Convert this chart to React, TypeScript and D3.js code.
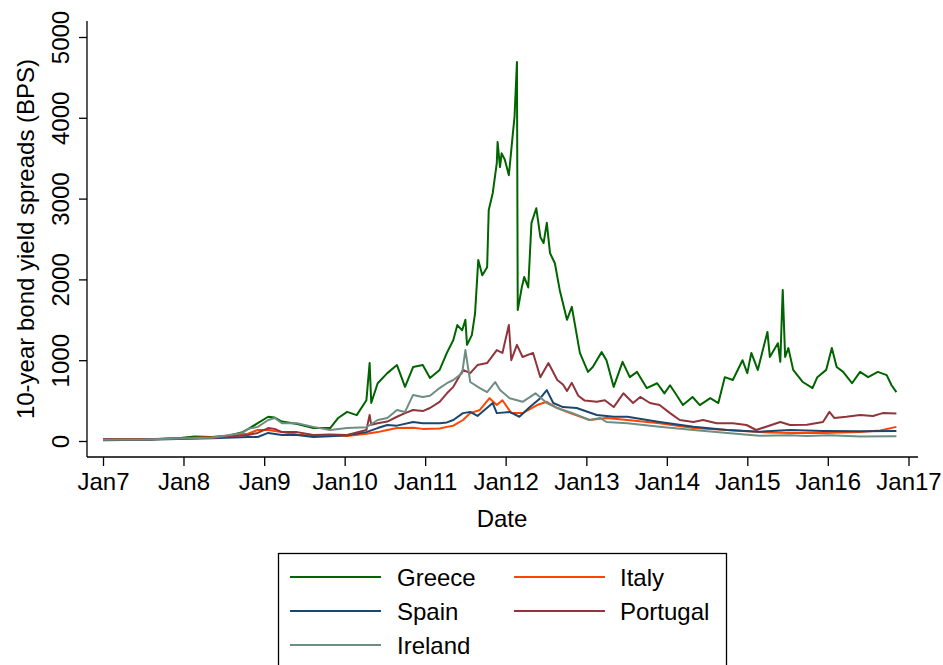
import React, { useEffect, useRef } from 'react';
import * as d3 from 'd3';

// [decimal year, spread in bps]
const greece: [number, number][] = [
  [2007.0, 25], [2007.3, 22], [2007.53, 20], [2007.76, 28], [2007.93, 35], [2008.14, 55], [2008.35, 50],
  [2008.56, 65], [2008.73, 110], [2008.8, 148], [2008.92, 220], [2009.05, 300], [2009.13, 290], [2009.22, 240],
  [2009.41, 210], [2009.61, 160], [2009.82, 160], [2009.92, 285], [2010.03, 360], [2010.15, 320], [2010.27, 505],
  [2010.31, 965], [2010.33, 470], [2010.41, 715], [2010.53, 840], [2010.65, 940], [2010.75, 670], [2010.85, 915],
  [2010.97, 940], [2011.06, 780], [2011.18, 880], [2011.27, 1090], [2011.35, 1250], [2011.4, 1435], [2011.46, 1370],
  [2011.5, 1500], [2011.52, 1190], [2011.58, 1310], [2011.62, 1580], [2011.66, 2240], [2011.71, 2050],
  [2011.77, 2150], [2011.79, 2860], [2011.84, 3070], [2011.89, 3440], [2011.9, 3700], [2011.93, 3390],
  [2011.95, 3560], [2011.99, 3480], [2012.04, 3290], [2012.09, 3810], [2012.11, 4010], [2012.14, 4690],
  [2012.15, 1620], [2012.2, 1900], [2012.23, 2030], [2012.28, 1900], [2012.32, 2700], [2012.38, 2880],
  [2012.43, 2525], [2012.47, 2450], [2012.51, 2700], [2012.55, 2325], [2012.61, 2200], [2012.67, 1870],
  [2012.76, 1500], [2012.82, 1660], [2012.92, 1090], [2013.02, 855], [2013.08, 915], [2013.19, 1100],
  [2013.25, 1000], [2013.34, 670], [2013.45, 980], [2013.54, 790], [2013.63, 855], [2013.75, 655], [2013.88, 715],
  [2013.97, 590], [2014.04, 690], [2014.12, 570], [2014.2, 445], [2014.32, 545], [2014.41, 445], [2014.54, 530],
  [2014.64, 470], [2014.72, 790], [2014.82, 755], [2014.94, 1000], [2015.0, 840], [2015.05, 1090], [2015.13, 880],
  [2015.25, 1350], [2015.28, 1040], [2015.38, 1210], [2015.41, 980], [2015.44, 1870], [2015.47, 1040],
  [2015.51, 1150], [2015.57, 880], [2015.69, 730], [2015.81, 655], [2015.87, 790], [2015.98, 880], [2016.05, 1150],
  [2016.11, 915], [2016.19, 855], [2016.3, 715], [2016.4, 855], [2016.5, 790], [2016.62, 855], [2016.73, 815],
  [2016.79, 690], [2016.85, 605],
];

const italy: [number, number][] = [
  [2007.0, 20], [2007.53, 22], [2007.93, 35], [2008.35, 45], [2008.8, 90], [2008.92, 136], [2009.05, 136],
  [2009.22, 110], [2009.41, 80], [2009.61, 62], [2009.82, 70], [2010.03, 62], [2010.27, 90], [2010.41, 110],
  [2010.53, 136], [2010.65, 160], [2010.85, 165], [2010.97, 150], [2011.18, 155], [2011.27, 175], [2011.35, 190],
  [2011.47, 260], [2011.56, 345], [2011.68, 384], [2011.8, 530], [2011.89, 445], [2011.96, 505], [2012.07, 345],
  [2012.21, 345], [2012.39, 445], [2012.51, 485], [2012.64, 408], [2012.8, 345], [2013.04, 260], [2013.25, 285],
  [2013.51, 260], [2013.91, 220], [2014.33, 160], [2014.75, 136], [2015.15, 110], [2015.53, 100], [2015.94, 100],
  [2016.4, 110], [2016.65, 130], [2016.85, 175],
];

const spain: [number, number][] = [
  [2007.0, 10], [2007.53, 15], [2007.93, 25], [2008.35, 35], [2008.8, 50], [2008.92, 50], [2009.05, 100],
  [2009.22, 74], [2009.41, 74], [2009.61, 50], [2009.82, 60], [2010.03, 70], [2010.27, 110], [2010.41, 160],
  [2010.53, 198], [2010.65, 190], [2010.85, 235], [2010.97, 220], [2011.18, 220], [2011.27, 230], [2011.35, 260],
  [2011.47, 345], [2011.56, 360], [2011.65, 310], [2011.84, 470], [2011.89, 345], [2012.05, 360], [2012.17, 300],
  [2012.3, 420], [2012.43, 530], [2012.51, 630], [2012.59, 470], [2012.71, 420], [2012.88, 408], [2013.13, 322],
  [2013.34, 300], [2013.51, 300], [2013.91, 235], [2014.33, 175], [2014.75, 136], [2015.15, 115], [2015.53, 136],
  [2015.94, 125], [2016.4, 120], [2016.85, 124],
];

const portugal: [number, number][] = [
  [2007.0, 18], [2007.53, 20], [2007.93, 30], [2008.35, 40], [2008.8, 74], [2008.92, 100], [2009.05, 160],
  [2009.13, 150], [2009.22, 110], [2009.41, 110], [2009.61, 74], [2009.82, 80], [2010.03, 74], [2010.27, 136],
  [2010.31, 322], [2010.33, 200], [2010.41, 220], [2010.53, 240], [2010.65, 300], [2010.75, 345], [2010.85, 384],
  [2010.97, 370], [2011.06, 408], [2011.18, 485], [2011.27, 590], [2011.35, 670], [2011.47, 880], [2011.56, 840],
  [2011.65, 940], [2011.77, 965], [2011.89, 1125], [2011.96, 1090], [2012.04, 1435], [2012.07, 1000],
  [2012.14, 1190], [2012.21, 1040], [2012.34, 1090], [2012.43, 790], [2012.53, 965], [2012.64, 755],
  [2012.71, 700], [2012.76, 620], [2012.82, 720], [2012.9, 560], [2012.98, 500], [2013.13, 485], [2013.23, 505],
  [2013.34, 420], [2013.46, 590], [2013.58, 470], [2013.67, 545], [2013.79, 470], [2013.91, 445], [2014.04, 345],
  [2014.16, 260], [2014.33, 235], [2014.45, 260], [2014.62, 220], [2014.82, 220], [2014.99, 198], [2015.11, 136],
  [2015.41, 235], [2015.53, 198], [2015.74, 200], [2015.94, 235], [2016.02, 360], [2016.08, 285], [2016.23, 300],
  [2016.4, 322], [2016.56, 310], [2016.68, 345], [2016.85, 340],
];

const ireland: [number, number][] = [
  [2007.0, 15], [2007.53, 18], [2007.93, 30], [2008.35, 40], [2008.73, 100], [2008.8, 150], [2008.92, 175],
  [2009.05, 260], [2009.13, 285], [2009.22, 220], [2009.41, 220], [2009.61, 175], [2009.82, 136], [2010.03, 160],
  [2010.27, 170], [2010.41, 260], [2010.53, 285], [2010.65, 384], [2010.75, 360], [2010.85, 570], [2010.97, 545],
  [2011.06, 560], [2011.18, 655], [2011.27, 715], [2011.35, 755], [2011.46, 840], [2011.5, 1125], [2011.56, 730],
  [2011.68, 655], [2011.77, 605], [2011.87, 730], [2011.93, 630], [2012.05, 530], [2012.21, 485], [2012.37, 590],
  [2012.51, 470], [2012.64, 408], [2012.83, 345], [2013.04, 260], [2013.17, 285], [2013.25, 235], [2013.51, 220],
  [2013.91, 175], [2014.33, 136], [2014.75, 100], [2015.15, 65], [2015.53, 70], [2015.74, 62], [2016.02, 70],
  [2016.4, 55], [2016.85, 60],
];

const yearTicks = [2007, 2008, 2009, 2010, 2011, 2012, 2013, 2014, 2015, 2016, 2017];
const valueTicks = [0, 1000, 2000, 3000, 4000, 5000];

// draw order follows the legend order (row by row)
const series = [
  { name: 'Greece', data: greece, color: '#006400', col: 0, row: 0 },
  { name: 'Italy', data: italy, color: '#ff4500', col: 1, row: 0 },
  { name: 'Spain', data: spain, color: '#1a476f', col: 0, row: 1 },
  { name: 'Portugal', data: portugal, color: '#90353b', col: 1, row: 1 },
  { name: 'Ireland', data: ireland, color: '#6e8e84', col: 0, row: 2 },
];

const FONT = '"Liberation Sans", Arial, Helvetica, sans-serif';

const toDate = (t: number) => {
  const y = Math.floor(t);
  const a = new Date(y, 0, 1).getTime();
  const b = new Date(y + 1, 0, 1).getTime();
  return new Date(a + (t - y) * (b - a));
};

const App = () => {
  const ref = useRef<SVGSVGElement>(null);

  useEffect(() => {
    const width = 943;
    const height = 665;
    const left = 87, right = 918, top = 21, bottom = 457;

    const svg = d3.select(ref.current).attr('width', width).attr('height', height);
    svg.selectAll('*').remove();

    const x = d3.scaleTime()
      .domain([toDate(2007), toDate(2017)])
      .range([103, 908.5]);

    const y = d3.scaleLinear()
      .domain([0, 5000])
      .range([441, 37]);

    // axis lines
    svg.append('line')
      .attr('x1', left).attr('x2', left).attr('y1', top).attr('y2', bottom)
      .attr('stroke', '#000').attr('stroke-width', 1.3);
    svg.append('line')
      .attr('x1', left).attr('x2', right).attr('y1', bottom).attr('y2', bottom)
      .attr('stroke', '#000').attr('stroke-width', 1.3);

    // y axis
    const yAxis = svg.append('g')
      .attr('transform', `translate(${left},0)`)
      .call(d3.axisLeft(y).tickValues(valueTicks).tickSize(8).tickSizeOuter(0).tickFormat(d3.format('d')));
    yAxis.select('.domain').remove();
    yAxis.selectAll('line').attr('stroke', '#000').attr('stroke-width', 1.3);
    yAxis.selectAll('text')
      .attr('font-family', FONT)
      .attr('font-size', 24)
      .attr('fill', '#000')
      .attr('text-anchor', 'middle')
      .attr('x', null)
      .attr('dy', null)
      .attr('transform', 'translate(-18,0) rotate(-90)');

    // x axis
    const xAxis = svg.append('g')
      .attr('transform', `translate(0,${bottom})`)
      .call(d3.axisBottom(x)
        .tickValues(yearTicks.map(v => toDate(v)))
        .tickSize(9)
        .tickSizeOuter(0)
        .tickFormat((d: any) => `Jan${d.getFullYear() - 2000}`));
    xAxis.select('.domain').remove();
    xAxis.selectAll('line').attr('stroke', '#000').attr('stroke-width', 1.3);
    xAxis.selectAll('text')
      .attr('font-family', FONT)
      .attr('font-size', 24)
      .attr('fill', '#000')
      .attr('y', 33)
      .attr('dy', null);

    // axis titles
    svg.append('text')
      .attr('transform', `translate(34,${(top + bottom) / 2}) rotate(-90)`)
      .attr('text-anchor', 'middle')
      .attr('font-family', FONT)
      .attr('font-size', 24)
      .text('10-year bond yield spreads (BPS)');

    svg.append('text')
      .attr('x', 502)
      .attr('y', 527)
      .attr('text-anchor', 'middle')
      .attr('font-family', FONT)
      .attr('font-size', 24)
      .text('Date');

    // series
    const line = d3.line<[number, number]>()
      .x(d => x(toDate(d[0])))
      .y(d => y(d[1]));

    svg.append('g')
      .selectAll('path')
      .data(series)
      .join('path')
      .attr('d', d => line(d.data))
      .attr('fill', 'none')
      .attr('stroke', d => d.color)
      .attr('stroke-width', 2)
      .attr('stroke-linejoin', 'round');

    // legend
    const legend = svg.append('g');
    legend.append('rect')
      .attr('x', 278.5).attr('y', 553.5)
      .attr('width', 448).attr('height', 130)
      .attr('fill', '#fff').attr('stroke', '#000').attr('stroke-width', 1.3);

    const items = legend.selectAll('g.item')
      .data(series)
      .join('g')
      .attr('class', 'item')
      .attr('transform', d => `translate(${d.col === 0 ? 290 : 514},${577 + d.row * 34})`);
    items.append('line')
      .attr('x1', 0).attr('x2', 91)
      .attr('stroke', d => d.color).attr('stroke-width', 2);
    items.append('text')
      .attr('x', d => (d.col === 0 ? 107 : 106))
      .attr('y', 9)
      .attr('font-family', FONT)
      .attr('font-size', 24)
      .text(d => d.name);
  }, []);

  return (
    <svg ref={ref} style={{ position: 'absolute', left: 0, top: 0, background: '#fff' }}></svg>
  );
};

export default App;
